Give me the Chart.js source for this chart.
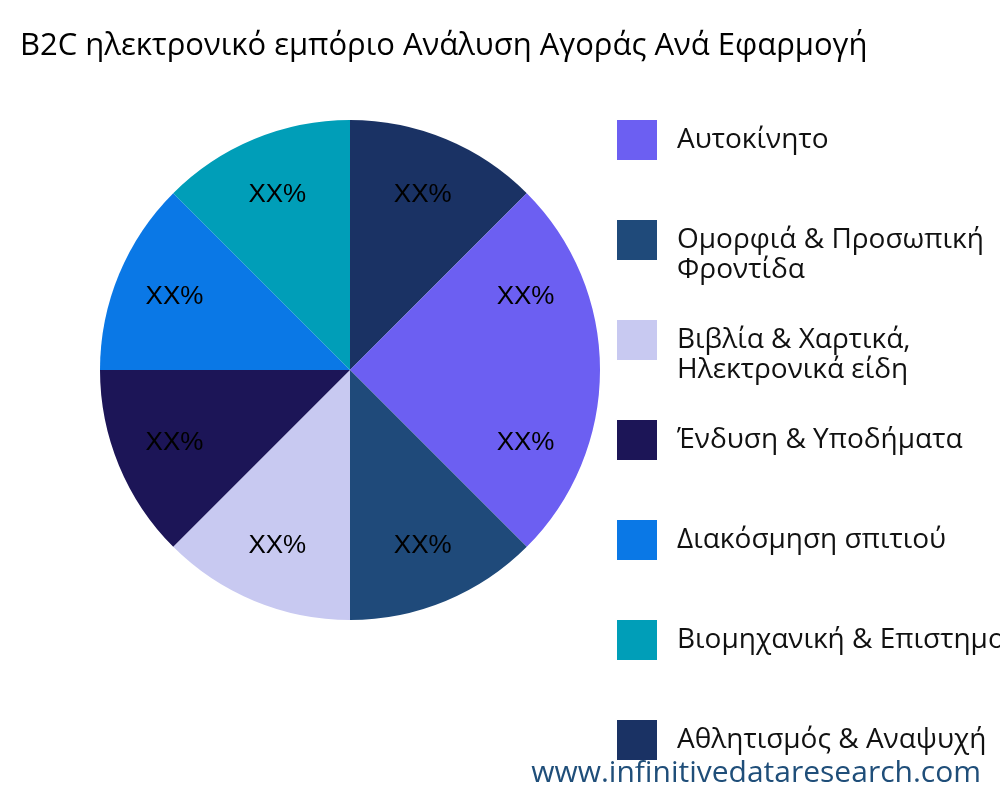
<!DOCTYPE html>
<html><head><meta charset="utf-8">
<script src="https://cdn.jsdelivr.net/npm/chart.js@4"></script>
<style>
body{margin:0;width:1000px;height:800px;overflow:hidden;background:#fff;font-family:"Open Sans","Noto Sans",sans-serif;position:relative}
#title{position:absolute;left:20px;top:22px;font-size:31px;white-space:nowrap;color:#000}
#legend{position:absolute;left:617px;top:120px}
.item{position:absolute;left:0;white-space:nowrap;font-size:28px;line-height:30px;color:#111}
.box{position:absolute;left:0;top:0;width:40px;height:40px}
.txt{position:absolute;left:60px;top:2px}
#wm{position:absolute;right:19px;top:750px;font-size:30px;color:#1f4e79;white-space:nowrap}
canvas{position:absolute;left:0;top:0}
</style></head><body>
<canvas id="c" width="1000" height="800"></canvas>
<div id="title">B2C ηλεκτρονικό εμπόριο Ανάλυση Αγοράς Ανά Εφαρμογή</div>
<div id="legend"></div>
<div id="wm">www.infinitivedataresearch.com</div>
<script>
const categories=["Αυτοκίνητο","Ομορφιά & Προσωπική Φροντίδα","Βιβλία & Χαρτικά, Ηλεκτρονικά είδη","Ένδυση & Υποδήματα","Διακόσμηση σπιτιού","Βιομηχανική & Επιστημονική","Αθλητισμός & Αναψυχή","Παιχνίδια & Χόμπι"];
const legendLines=[["Αυτοκίνητο"],["Ομορφιά & Προσωπική","Φροντίδα"],["Βιβλία & Χαρτικά,","Ηλεκτρονικά είδη"],["Ένδυση & Υποδήματα"],["Διακόσμηση σπιτιού"],["Βιομηχανική & Επιστημονική"],["Αθλητισμός & Αναψυχή"],["Παιχνίδια & Χόμπι"]];
const values=[12.5,12.5,12.5,12.5,12.5,12.5,12.5,12.5];
const sliceLabels=["XX%","XX%","XX%","XX%","XX%","XX%","XX%","XX%"];
const colors=["#6c5ff2","#1f4a7a","#c8c9f1","#1c1557","#0a78e6","#009eb8","#1a3264","#6c5ff2"];
const lg=document.getElementById('legend');
legendLines.forEach((l,i)=>{const d=document.createElement('div');d.className='item';d.style.top=(i*100)+'px';
d.innerHTML='<div class="box" style="background:'+colors[i]+'"></div><div class="txt">'+l.join('<br>')+'</div>';lg.appendChild(d);});
const labelPlugin={id:'lbl',afterDatasetsDraw(ch){const ctx=ch.ctx;const meta=ch.getDatasetMeta(0);
ctx.save();ctx.font='26px "Liberation Sans", Arial, sans-serif';ctx.fillStyle='#000';ctx.textAlign='center';ctx.textBaseline='middle';
meta.data.forEach((a,i)=>{const p=a.getProps(['x','y','startAngle','endAngle','outerRadius'],true);const m=(p.startAngle+p.endAngle)/2;const r=p.outerRadius*0.76;
ctx.fillText(sliceLabels[i],p.x+Math.cos(m)*r,p.y+Math.sin(m)*r);});ctx.restore();}};
new Chart(document.getElementById('c'),{type:'pie',data:{labels:categories,datasets:[{data:values,backgroundColor:colors,borderWidth:0}]},
options:{responsive:false,animation:false,rotation:90,layout:{padding:{left:100,right:400,top:120,bottom:180}},
plugins:{legend:{display:false},tooltip:{enabled:false},title:{display:false}}},plugins:[labelPlugin]});
</script></body></html>
